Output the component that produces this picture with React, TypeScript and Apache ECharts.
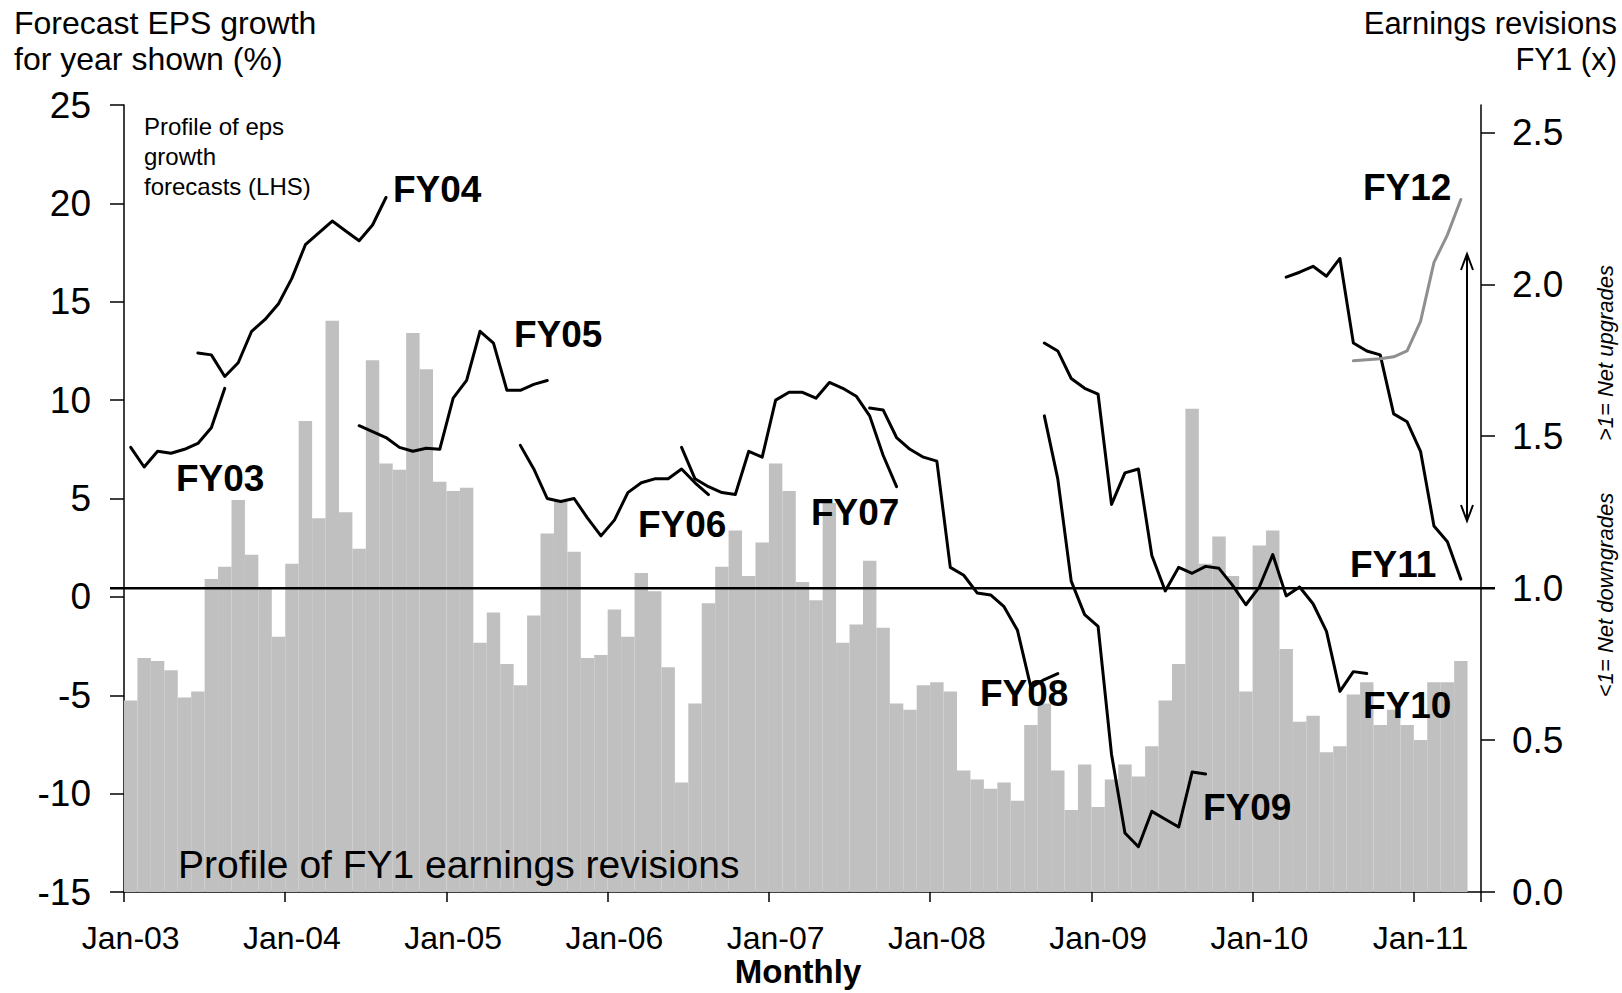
import React, { useEffect, useRef } from "react";
import * as echarts from "echarts";

// ---------- categories (monthly, Jan-03 .. May-11) ----------
const MONTH_NAMES = ["Jan", "Feb", "Mar", "Apr", "May", "Jun", "Jul", "Aug", "Sep", "Oct", "Nov", "Dec"];
const FIRST_YEAR = 2003;
const MONTH_COUNT = 101;
const categories: string[] = [];
for (let k = 0; k < MONTH_COUNT; k++) {
  const yr = (FIRST_YEAR + Math.floor(k / 12)) % 100;
  categories.push(`${MONTH_NAMES[k % 12]}-${String(yr).padStart(2, "0")}`);
}

// ---------- FY1 earnings revisions (RHS, bars), from Jan-03 ----------
const revisionsFY1 = [
  0.63, 0.77, 0.76, 0.73, 0.64, 0.66, 1.03, 1.07, 1.29, 1.11,
  1.0, 0.84, 1.08, 1.55, 1.23, 1.88, 1.25, 1.13, 1.75, 1.41,
  1.39, 1.84, 1.72, 1.35, 1.32, 1.33, 0.82, 0.92, 0.75, 0.68,
  0.91, 1.18, 1.29, 1.12, 0.77, 0.78, 0.93, 0.84, 1.05, 0.99,
  0.74, 0.36, 0.62, 0.95, 1.07, 1.19, 1.04, 1.15, 1.41, 1.32,
  1.02, 0.96, 1.28, 0.82, 0.88, 1.09, 0.87, 0.62, 0.6, 0.68,
  0.69, 0.66, 0.4, 0.37, 0.34, 0.36, 0.3, 0.55, 0.62, 0.4,
  0.27, 0.42, 0.28, 0.37, 0.42, 0.38, 0.48, 0.63, 0.75, 1.59,
  1.08, 1.17, 1.04, 0.66, 1.14, 1.19, 0.8, 0.56, 0.58, 0.46,
  0.48, 0.65, 0.69, 0.55, 0.6, 0.55, 0.5, 0.69, 0.69, 0.76,
];

// ---------- EPS growth forecast profiles (LHS, %) ----------
const fy03Start = "Jan-03";
const fy03 = [7.6, 6.6, 7.4, 7.3, 7.5, 7.8, 8.6, 10.6];
const fy04Start = "Jun-03";
const fy04 = [12.4, 12.3, 11.2, 11.9, 13.5, 14.1, 14.9, 16.2, 17.9, 18.5, 19.1, 18.6, 18.1, 18.9, 20.3];
const fy05Start = "Jun-04";
const fy05 = [8.7, 8.4, 8.1, 7.6, 7.4, 7.55, 7.5, 10.1, 11.0, 13.5, 12.9, 10.5, 10.5, 10.8, 11.0];
const fy06Start = "Jun-05";
const fy06 = [7.7, 6.5, 5.0, 4.85, 5.0, 4.0, 3.1, 3.9, 5.3, 5.8, 6.0, 6.0, 6.5, 5.8, 5.2];
const fy07Start = "Jun-06";
const fy07 = [7.6, 6.0, 5.6, 5.3, 5.2, 7.4, 7.1, 10.0, 10.4, 10.4, 10.1, 10.9, 10.6, 10.2, 9.2, 7.2, 5.6];
const fy08Start = "Aug-07";
const fy08 = [9.6, 9.5, 8.1, 7.5, 7.1, 6.9, 1.5, 1.1, 0.2, 0.1, -0.5, -1.7, -4.6, -4.2, -3.9];
const fy09Start = "Sep-08";
const fy09 = [9.2, 6.0, 0.8, -0.9, -1.5, -8.0, -12.0, -12.7, -10.9, -11.3, -11.7, -8.9, -9.0];
const fy10Start = "Sep-08";
const fy10 = [12.9, 12.5, 11.1, 10.6, 10.3, 4.7, 6.3, 6.5, 2.1, 0.3, 1.5, 1.2, 1.55, 1.45, 0.6, -0.4, 0.5, 2.15, 0.05, 0.5, -0.35, -1.75, -4.8, -3.8, -3.9];
const fy11Start = "Mar-10";
const fy11 = [16.25, 16.5, 16.8, 16.3, 17.2, 12.9, 12.5, 12.3, 9.3, 8.9, 7.4, 3.6, 2.8, 0.9];
const fy12Start = "Aug-10";
const fy12 = [12.0, 12.05, 12.1, 12.2, 12.5, 14.0, 17.0, 18.4, 20.2];

const lhsTicks = { min: -15, max: 25, interval: 5 };
const rhsTickValues = [0, 0.5, 1.0, 1.5, 2.0, 2.5];
const rhsRange = { min: 0, max: 2.59 };
const neutralRevision = 1.0;

const FONT = "Liberation Sans, Arial, sans-serif";

function pad(start: string, values: number[]) {
  const out: (number | null)[] = categories.map(() => null);
  const s = categories.indexOf(start);
  values.forEach((v, i) => {
    out[s + i] = v;
  });
  return out;
}

const lineDefs = [
  { name: "FY03", start: fy03Start, values: fy03, color: "#000000" },
  { name: "FY04", start: fy04Start, values: fy04, color: "#000000" },
  { name: "FY05", start: fy05Start, values: fy05, color: "#000000" },
  { name: "FY06", start: fy06Start, values: fy06, color: "#000000" },
  { name: "FY07", start: fy07Start, values: fy07, color: "#000000" },
  { name: "FY08", start: fy08Start, values: fy08, color: "#000000" },
  { name: "FY09", start: fy09Start, values: fy09, color: "#000000" },
  { name: "FY10", start: fy10Start, values: fy10, color: "#000000" },
  { name: "FY11", start: fy11Start, values: fy11, color: "#000000" },
  { name: "FY12", start: fy12Start, values: fy12, color: "#8f8f8f" },
];

function txt(text: string, x: number, y: number, size: number, opts: any = {}) {
  return {
    type: "text",
    x,
    y,
    z: 100,
    rotation: opts.rotation || 0,
    style: {
      text,
      fill: "#000",
      fontSize: size,
      fontFamily: FONT,
      fontWeight: opts.bold ? "bold" : "normal",
      fontStyle: opts.italic ? "italic" : "normal",
      align: opts.align || "left",
      verticalAlign: "middle",
    },
  };
}

export default function App() {
  const ref = useRef<HTMLDivElement>(null);

  useEffect(() => {
    if (!ref.current) return;
    const chart = echarts.init(ref.current, undefined, { renderer: "svg" });

    const option: any = {
      animation: false,
      backgroundColor: "#ffffff",
      grid: { left: 124, right: 141, top: 105, bottom: 101, containLabel: false },
      xAxis: {
        type: "category",
        data: categories,
        boundaryGap: true,
        axisLine: { show: true, onZero: false, lineStyle: { color: "#000", width: 1.5 } },
        axisTick: { show: true, interval: 11, length: 10, lineStyle: { color: "#000", width: 1.5 } },
        axisLabel: { interval: 11, margin: 30, fontSize: 32, color: "#000", fontFamily: FONT },
        splitLine: { show: false },
      },
      yAxis: [
        {
          type: "value",
          position: "left",
          min: lhsTicks.min,
          max: lhsTicks.max,
          interval: lhsTicks.interval,
          axisLine: { show: true, lineStyle: { color: "#000", width: 1.5 } },
          axisTick: { show: true, length: 14, lineStyle: { color: "#000", width: 1.5 } },
          axisLabel: { margin: 33, fontSize: 37, color: "#000", fontFamily: FONT },
          splitLine: { show: false },
        },
        {
          type: "value",
          position: "right",
          min: rhsRange.min,
          max: rhsRange.max,
          axisLine: { show: true, lineStyle: { color: "#000", width: 1.5 } },
          axisTick: { show: true, length: 14, customValues: rhsTickValues, lineStyle: { color: "#000", width: 1.5 } },
          axisLabel: {
            customValues: rhsTickValues,
            margin: 31,
            fontSize: 37,
            color: "#000",
            fontFamily: FONT,
            formatter: (v: number) => v.toFixed(1),
          },
          splitLine: { show: false },
        },
      ],
      series: [
        {
          type: "bar",
          name: "Profile of FY1 earnings revisions",
          yAxisIndex: 1,
          data: revisionsFY1,
          barCategoryGap: "0%",
          itemStyle: { color: "#C0C0C0" },
          z: 1,
        },
        ...lineDefs.map((d) => ({
          type: "line",
          name: d.name,
          yAxisIndex: 0,
          data: pad(d.start, d.values),
          symbol: "none",
          showSymbol: false,
          connectNulls: false,
          lineStyle: { color: d.color, width: 3, cap: "round", join: "round" },
          z: 3,
        })),
      ],
    };
    chart.setOption(option);

    const yNeutral = chart.convertToPixel({ yAxisIndex: 1 }, neutralRevision) as number;

    const graphics: any[] = [
      {
        type: "line",
        z: 50,
        shape: { x1: 110, y1: yNeutral, x2: 1495, y2: yNeutral },
        style: { stroke: "#000", lineWidth: 2.5 },
      },
      // double arrow on the right
      { type: "line", z: 50, shape: { x1: 1467, y1: 256, x2: 1467, y2: 519 }, style: { stroke: "#000", lineWidth: 2 } },
      { type: "polyline", z: 50, shape: { points: [[1461, 270], [1467, 254], [1473, 270]] }, style: { stroke: "#000", lineWidth: 2, fill: "none" } },
      { type: "polyline", z: 50, shape: { points: [[1461, 505], [1467, 521], [1473, 505]] }, style: { stroke: "#000", lineWidth: 2, fill: "none" } },
      // axis titles
      txt("Forecast EPS growth", 14, 23, 32),
      txt("for year shown (%)", 14, 59, 32),
      txt("Earnings revisions", 1617, 23, 31, { align: "right" }),
      txt("FY1 (x)", 1617, 59, 31, { align: "right" }),
      txt("Monthly", 798, 971, 33, { bold: true, align: "center" }),
      // annotations
      txt("Profile of eps", 144, 126, 24),
      txt("growth", 144, 156, 24),
      txt("forecasts (LHS)", 144, 186, 24),
      txt("Profile of FY1 earnings revisions", 178, 864, 39),
      txt(">1= Net upgrades", 1605, 353, 22, { italic: true, align: "center", rotation: Math.PI / 2 }),
      txt("<1= Net downgrades", 1605, 595, 22, { italic: true, align: "center", rotation: Math.PI / 2 }),
      // FY labels
      txt("FY03", 176, 478, 37, { bold: true }),
      txt("FY04", 393, 189, 37, { bold: true }),
      txt("FY05", 514, 334, 37, { bold: true }),
      txt("FY06", 638, 524, 37, { bold: true }),
      txt("FY07", 811, 512, 37, { bold: true }),
      txt("FY08", 980, 693, 37, { bold: true }),
      txt("FY09", 1203, 807, 37, { bold: true }),
      txt("FY10", 1363, 705, 37, { bold: true }),
      txt("FY11", 1350, 564, 37, { bold: true }),
      txt("FY12", 1363, 187, 37, { bold: true }),
    ];
    chart.setOption({ graphic: graphics });

    return () => chart.dispose();
  }, []);

  return (
    <div
      ref={ref}
      style={{ position: "absolute", left: 0, top: 0, width: 1622, height: 993, background: "#fff" }}
    />
  );
}
